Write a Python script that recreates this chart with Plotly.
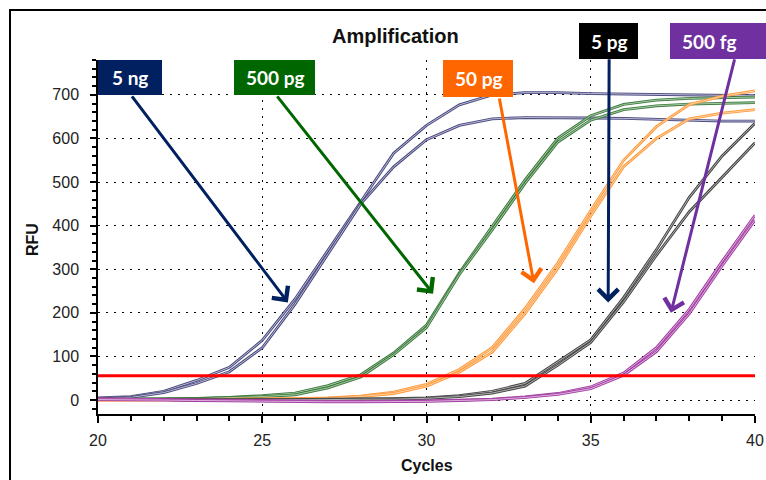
import plotly.graph_objects as go

# ---------------- data ----------------
cycles = list(range(20, 41))

ng5_a = [5, 8, 20, 45, 75, 137, 232, 342, 455, 566, 630, 677, 700, 705, 705, 703, 702, 700, 699, 698, 698]
ng5_b = [3, 6, 17, 38, 65, 120, 220, 335, 450, 535, 597, 630, 645, 648, 648, 647, 646, 644, 642, 640, 640]

pg500_a = [2, 2, 3, 4, 6, 10, 16, 33, 58, 108, 172, 292, 398, 505, 601, 652, 678, 688, 692, 694, 695]
pg500_b = [1, 1, 2, 3, 5, 8, 12, 28, 53, 104, 166, 288, 390, 497, 592, 642, 666, 675, 679, 681, 682]

pg50_a = [0, 0, 1, 1, 2, 2, 3, 5, 9, 18, 36, 70, 120, 210, 315, 435, 550, 627, 678, 697, 709]
pg50_b = [0, 0, 1, 1, 1, 2, 3, 4, 8, 15, 32, 64, 110, 198, 302, 422, 535, 600, 645, 658, 666]

pg5_a = [2, 2, 1, 0, 0, 1, 1, 2, 2, 3, 5, 10, 20, 38, 88, 138, 235, 345, 465, 560, 635]
pg5_b = [1, 1, 0, 0, 0, 0, 1, 1, 2, 2, 4, 8, 16, 32, 80, 132, 225, 332, 432, 510, 590]

fg500_a = [3, 2, 1, 0, -1, -2, -2, -3, -3, -3, -2, 0, 2, 7, 15, 30, 62, 120, 208, 318, 424]
fg500_b = [1, 1, 0, -1, -2, -3, -3, -4, -4, -4, -3, -1, 1, 6, 13, 26, 57, 111, 198, 308, 413]

threshold = 56

sample_labels = ["5 ng", "500 pg", "50 pg", "5 pg", "500 fg"]
x_ticks = [20, 25, 30, 35, 40]
y_ticks = [0, 100, 200, 300, 400, 500, 600, 700]

# ---------------- style ----------------
W, H = 766, 480
ML, MR, MT, MB = 98, 11, 60, 66
PW, PH = W - ML - MR, H - MT - MB


def px_x(px):
    return (px - ML) / PW


def px_y(py):
    return (H - MB - py) / PH


series = [
    (ng5_a, ng5_b, "#4a4a7e", "#c4c4e0"),
    (pg500_a, pg500_b, "#3f7a3f", "#b0d4b0"),
    (pg50_a, pg50_b, "#ff9a3c", "#ffd9b0"),
    (pg5_a, pg5_b, "#454545", "#bdbdbd"),
    (fg500_a, fg500_b, "#a23fa2", "#e6bde6"),
]

fig = go.Figure()

for a, b, col, light in series:
    for rep in (a, b):
        fig.add_trace(go.Scatter(x=cycles, y=rep, mode="lines",
                                 line=dict(color=col, width=2.8),
                                 hoverinfo="skip", showlegend=False))
        fig.add_trace(go.Scatter(x=cycles, y=rep, mode="lines",
                                 line=dict(color=light, width=0.9),
                                 hoverinfo="skip", showlegend=False))

fig.add_trace(go.Scatter(x=[cycles[0], cycles[-1]], y=[threshold, threshold],
                         mode="lines", line=dict(color="#ff0000", width=3),
                         hoverinfo="skip", showlegend=False))

tickfont = dict(family="Liberation Sans, Arial", size=16, color="#222222")
grid = dict(showgrid=True, gridcolor="#000000", gridwidth=1, griddash="2px,6px")

fig.update_layout(
    width=W, height=H,
    margin=dict(l=ML, r=MR, t=MT, b=MB, autoexpand=False),
    paper_bgcolor="white", plot_bgcolor="white",
    xaxis=dict(range=[20, 40], tickvals=x_ticks, ticks="outside", ticklen=7,
               tickwidth=1.5, tickcolor="black", showline=True, linecolor="black",
               linewidth=1.5, zeroline=False, tickfont=tickfont, ticklabelstandoff=4,
               minor=dict(dtick=1, tick0=20, ticks="outside", ticklen=5,
                          tickwidth=1.5, tickcolor="black", showgrid=False),
               **grid),
    yaxis=dict(range=[-32, 780], tickvals=y_ticks, ticks="outside", ticklen=6,
               tickwidth=1.5, tickcolor="black", showline=True, linecolor="black",
               linewidth=1.5, zeroline=False, tickfont=tickfont, ticklabelstandoff=8,
               minor=dict(dtick=20, tick0=0, ticks="outside", ticklen=4,
                          tickwidth=1.5, tickcolor="black", showgrid=False),
               **grid),
    xaxis2=dict(range=[20, 40], overlaying="x", side="top", anchor="y",
                showline=True, linecolor="black", linewidth=1.5, ticks="inside",
                ticklen=6, tickwidth=1.2, tickcolor="black", dtick=1, tick0=20,
                showticklabels=False, showgrid=False, zeroline=False),
    yaxis2=dict(range=[-32, 780], overlaying="y", side="right", anchor="x",
                showline=True, linecolor="black", linewidth=1.5, ticks="inside",
                ticklen=5, tickwidth=1.2, tickcolor="black", dtick=20, tick0=0,
                showticklabels=False, showgrid=False, zeroline=False),
)

# outer frame
fig.add_shape(type="rect", xref="paper", yref="paper",
              x0=px_x(10), x1=px_x(800), y0=px_y(520), y1=px_y(10),
              line=dict(color="black", width=2), fillcolor="rgba(0,0,0,0)",
              layer="above")

txt = dict(xref="paper", yref="paper", showarrow=False,
           xanchor="center", yanchor="middle")

# title & axis titles
fig.add_annotation(text="<b>Amplification</b>", x=px_x(395), y=px_y(36),
                   font=dict(family="Liberation Sans, Arial", size=20, color="#111"), **txt)
fig.add_annotation(text="<b>Cycles</b>", x=px_x(427), y=px_y(465),
                   font=dict(family="Liberation Sans, Arial", size=16, color="#111"), **txt)
fig.add_annotation(text="<b>RFU</b>", textangle=-90, x=px_x(32), y=px_y(240),
                   font=dict(family="Liberation Sans, Arial", size=16, color="#111"), **txt)

# label boxes: (label, box left, right, top, bottom, text center x, color)
boxes = [
    (sample_labels[0], 98, 162, 60, 95, 130, "#002060"),
    (sample_labels[1], 234, 315, 60, 95, 275, "#006600"),
    (sample_labels[2], 443, 513, 60, 97, 478, "#ff6600"),
    (sample_labels[3], 579, 638, 23, 59, 609, "#000000"),
    (sample_labels[4], 670, 790, 23, 59, 709, "#7030a0"),
]
for lab, l, r, t, b, tx, col in boxes:
    fig.add_shape(type="rect", xref="paper", yref="paper",
                  x0=px_x(l), x1=px_x(r), y0=px_y(b), y1=px_y(t),
                  line=dict(width=0), fillcolor=col, layer="above")
    fig.add_annotation(text="<b>%s</b>" % lab, x=px_x(tx), y=px_y((t + b) / 2),
                       font=dict(family="Lato", size=19, color="white"), **txt)

# arrows: (tail x, tail y, head x, head y) in data units, color
arrows = [
    (21.0, 700, 25.78, 224, "#002060"),
    (25.42, 700, 30.2, 244, "#006600"),
    (32.21, 695, 33.27, 268, "#ff6600"),
    (35.56, 785, 35.53, 224, "#002060"),
    (39.39, 785, 37.44, 200, "#7030a0"),
]
for tx_, ty_, hx, hy, col in arrows:
    fig.add_annotation(x=hx, y=hy, ax=tx_, ay=ty_, xref="x", yref="y",
                       axref="x", ayref="y", text="", showarrow=True,
                       arrowhead=4, arrowsize=1.3, arrowwidth=3, arrowcolor=col,
                       standoff=0, startstandoff=0)

fig.write_html("out.html",
               config={"displayModeBar": False},
               post_script="document.body.style.margin='0';"
                           "document.body.style.overflow='hidden';")
